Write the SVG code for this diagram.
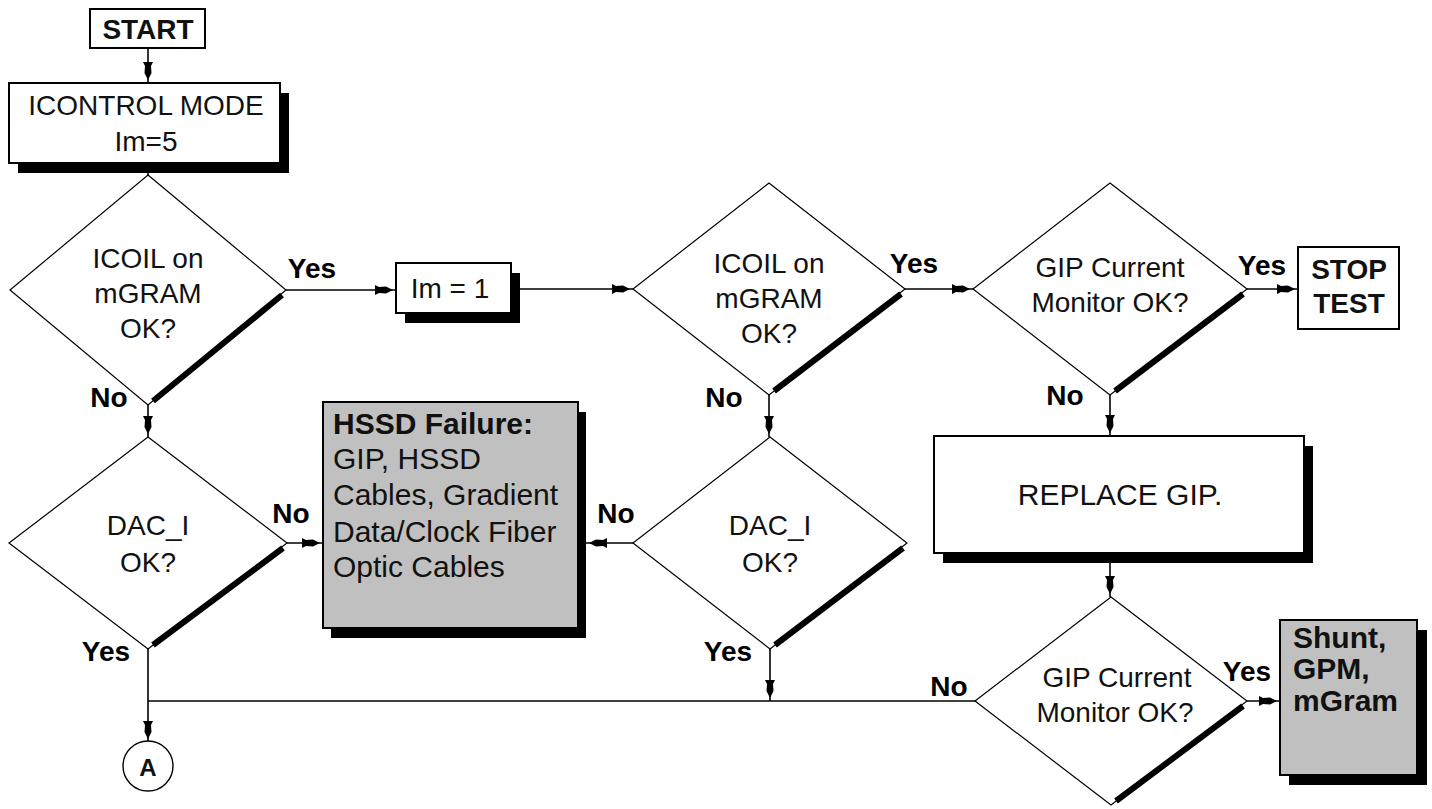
<svg xmlns="http://www.w3.org/2000/svg" width="1432" height="809" viewBox="0 0 1432 809">
  <style>
    .box { fill: #ffffff; stroke: #000; stroke-width: 2; }
    .gray { fill: #c0c0c0; stroke: #000; stroke-width: 2; }
    .shadow { fill: #000; }
    .dia { fill: #ffffff; stroke: #000; stroke-width: 1.2; }
    .dshadow { stroke: #000; stroke-width: 6; fill: none; }
    .conn { stroke: #000; stroke-width: 1.6; fill: none; }
    .t { font-family: "Liberation Sans", Arial, sans-serif; font-size: 28px; fill: #111; text-anchor: middle; dominant-baseline: central; }
    .tl { font-family: "Liberation Sans", Arial, sans-serif; font-size: 30px; fill: #111; dominant-baseline: central; }
    .b { font-weight: bold; }
    .lbl { font-family: "Liberation Sans", Arial, sans-serif; font-size: 28px; font-weight: bold; fill: #000; text-anchor: middle; dominant-baseline: central; }
  </style>
  <defs>
    <marker id="arr" markerUnits="userSpaceOnUse" viewBox="-20 -7 26 14" markerWidth="26" markerHeight="14" refX="3" refY="0" orient="auto">
      <path d="M0,0 L-7,-3.5 L-14,-3 L-18,-5 L-18,5 L-14,3 L-7,3.5 Z" fill="#000"/>
    </marker>
  </defs>

  <rect width="1432" height="809" fill="#ffffff"/>

  <!-- connectors -->
  <g id="connectors">
    <path class="conn" d="M148,48 V83" marker-end="url(#arr)"/>
    <path class="conn" d="M148,163 V175"/>
    <path class="conn" d="M286,290 H396" marker-end="url(#arr)"/>
    <path class="conn" d="M511,289 H633" marker-end="url(#arr)"/>
    <path class="conn" d="M905,289 H973" marker-end="url(#arr)"/>
    <path class="conn" d="M1247,289 H1298" marker-end="url(#arr)"/>
    <path class="conn" d="M148,405 V437" marker-end="url(#arr)"/>
    <path class="conn" d="M769,395 V437" marker-end="url(#arr)"/>
    <path class="conn" d="M1110,395 V436" marker-end="url(#arr)"/>
    <path class="conn" d="M287,543 H323" marker-end="url(#arr)"/>
    <path class="conn" d="M633,543 H586" marker-end="url(#arr)"/>
    <path class="conn" d="M148,649 V742" marker-end="url(#arr)"/>
    <path class="conn" d="M770,649 V701" marker-end="url(#arr)"/>
    <path class="conn" d="M975,701 H148"/>
    <path class="conn" d="M1110,563 V597" marker-end="url(#arr)"/>
    <path class="conn" d="M1247,701 H1280" marker-end="url(#arr)"/>
  </g>

  <!-- START -->
  <g id="start">
    <rect class="box" x="90" y="9" width="115" height="39"/>
    <text class="t b" x="148" y="29">START</text>
  </g>

  <!-- ICONTROL MODE -->
  <g id="icontrol">
    <rect class="shadow" x="18" y="93" width="271" height="80"/>
    <rect class="box" x="9" y="83" width="271" height="80"/>
    <text class="t" x="146" y="105">ICONTROL MODE</text>
    <text class="t" x="146" y="141">Im=5</text>
  </g>

  <!-- first ICOIL check -->
  <g id="icoil1">
    <polygon class="dia" points="148,175 286,290 148,405 10,290"/>
    <line class="dshadow" x1="282" y1="295" x2="153" y2="401"/>
    <text class="t" x="148" y="258">ICOIL on</text>
    <text class="t" x="148" y="293">mGRAM</text>
    <text class="t" x="148" y="328">OK?</text>
  </g>

  <!-- Im = 1 -->
  <g id="im1">
    <rect class="shadow" x="405" y="273" width="115" height="50"/>
    <rect class="box" x="396" y="263" width="115" height="50"/>
    <text class="t" x="450" y="288">Im = 1</text>
  </g>

  <!-- second ICOIL check -->
  <g id="icoil2">
    <polygon class="dia" points="769,183 905,289 769,395 633,289"/>
    <line class="dshadow" x1="901" y1="294" x2="774" y2="391"/>
    <text class="t" x="769" y="263">ICOIL on</text>
    <text class="t" x="769" y="298">mGRAM</text>
    <text class="t" x="769" y="333">OK?</text>
  </g>

  <!-- GIP current monitor check -->
  <g id="gip1">
    <polygon class="dia" points="1110,183 1247,289 1110,395 973,289"/>
    <line class="dshadow" x1="1243" y1="294" x2="1115" y2="391"/>
    <text class="t" x="1110" y="267">GIP Current</text>
    <text class="t" x="1110" y="302">Monitor OK?</text>
  </g>

  <!-- STOP TEST -->
  <g id="stop">
    <rect class="box" x="1298" y="247" width="101" height="82"/>
    <text class="t b" x="1349" y="269">STOP</text>
    <text class="t b" x="1349" y="303">TEST</text>
  </g>

  <!-- DAC_I check, left -->
  <g id="dac1">
    <polygon class="dia" points="148,437 287,543 148,649 9,543"/>
    <line class="dshadow" x1="283" y1="548" x2="153" y2="645"/>
    <text class="t" x="148" y="525">DAC_I</text>
    <text class="t" x="148" y="562">OK?</text>
  </g>

  <!-- HSSD failure -->
  <g id="hssd">
    <rect class="shadow" x="331" y="412" width="255" height="226"/>
    <rect class="gray" x="323" y="402" width="255" height="226"/>
    <text class="tl b" x="333" y="423">HSSD Failure:</text>
    <text class="tl" x="333" y="458">GIP, HSSD</text>
    <text class="tl" x="333" y="494">Cables, Gradient</text>
    <text class="tl" x="333" y="531">Data/Clock Fiber</text>
    <text class="tl" x="333" y="566">Optic Cables</text>
  </g>

  <!-- DAC_I check, right -->
  <g id="dac2">
    <polygon class="dia" points="770,437 907,543 770,649 633,543"/>
    <line class="dshadow" x1="903" y1="548" x2="775" y2="645"/>
    <text class="t" x="770" y="525">DAC_I</text>
    <text class="t" x="770" y="562">OK?</text>
  </g>

  <!-- REPLACE GIP -->
  <g id="replace">
    <rect class="shadow" x="943" y="446" width="370" height="117"/>
    <rect class="box" x="934" y="436" width="370" height="117"/>
    <text class="t" x="1120" y="494" style="font-size:30px">REPLACE GIP.</text>
  </g>

  <!-- GIP current monitor re-check -->
  <g id="gip2">
    <polygon class="dia" points="1111,597 1247,701 1111,805 975,701"/>
    <line class="dshadow" x1="1243" y1="706" x2="1116" y2="801"/>
    <text class="t" x="1117" y="677">GIP Current</text>
    <text class="t" x="1115" y="712">Monitor OK?</text>
  </g>

  <!-- Shunt, GPM, mGram -->
  <g id="shunt">
    <rect class="shadow" x="1289" y="630" width="138" height="155"/>
    <rect class="gray" x="1280" y="620" width="137" height="155"/>
    <text class="tl b" x="1293" y="637">Shunt,</text>
    <text class="tl b" x="1293" y="668">GPM,</text>
    <text class="tl b" x="1293" y="700">mGram</text>
  </g>

  <!-- off-page connector A -->
  <g id="conA">
    <circle cx="148" cy="766" r="25" fill="#fff" stroke="#000" stroke-width="1.4"/>
    <text class="t b" x="148" y="767" style="font-size:24px">A</text>
  </g>

  <!-- branch labels -->
  <g id="labels">
    <text class="lbl" x="312" y="268">Yes</text>
    <text class="lbl" x="914" y="263">Yes</text>
    <text class="lbl" x="1262" y="265">Yes</text>
    <text class="lbl" x="109" y="397">No</text>
    <text class="lbl" x="724" y="397">No</text>
    <text class="lbl" x="1065" y="395">No</text>
    <text class="lbl" x="291" y="513">No</text>
    <text class="lbl" x="616" y="513">No</text>
    <text class="lbl" x="106" y="651">Yes</text>
    <text class="lbl" x="728" y="651">Yes</text>
    <text class="lbl" x="949" y="686">No</text>
    <text class="lbl" x="1247" y="671">Yes</text>
  </g>
</svg>
